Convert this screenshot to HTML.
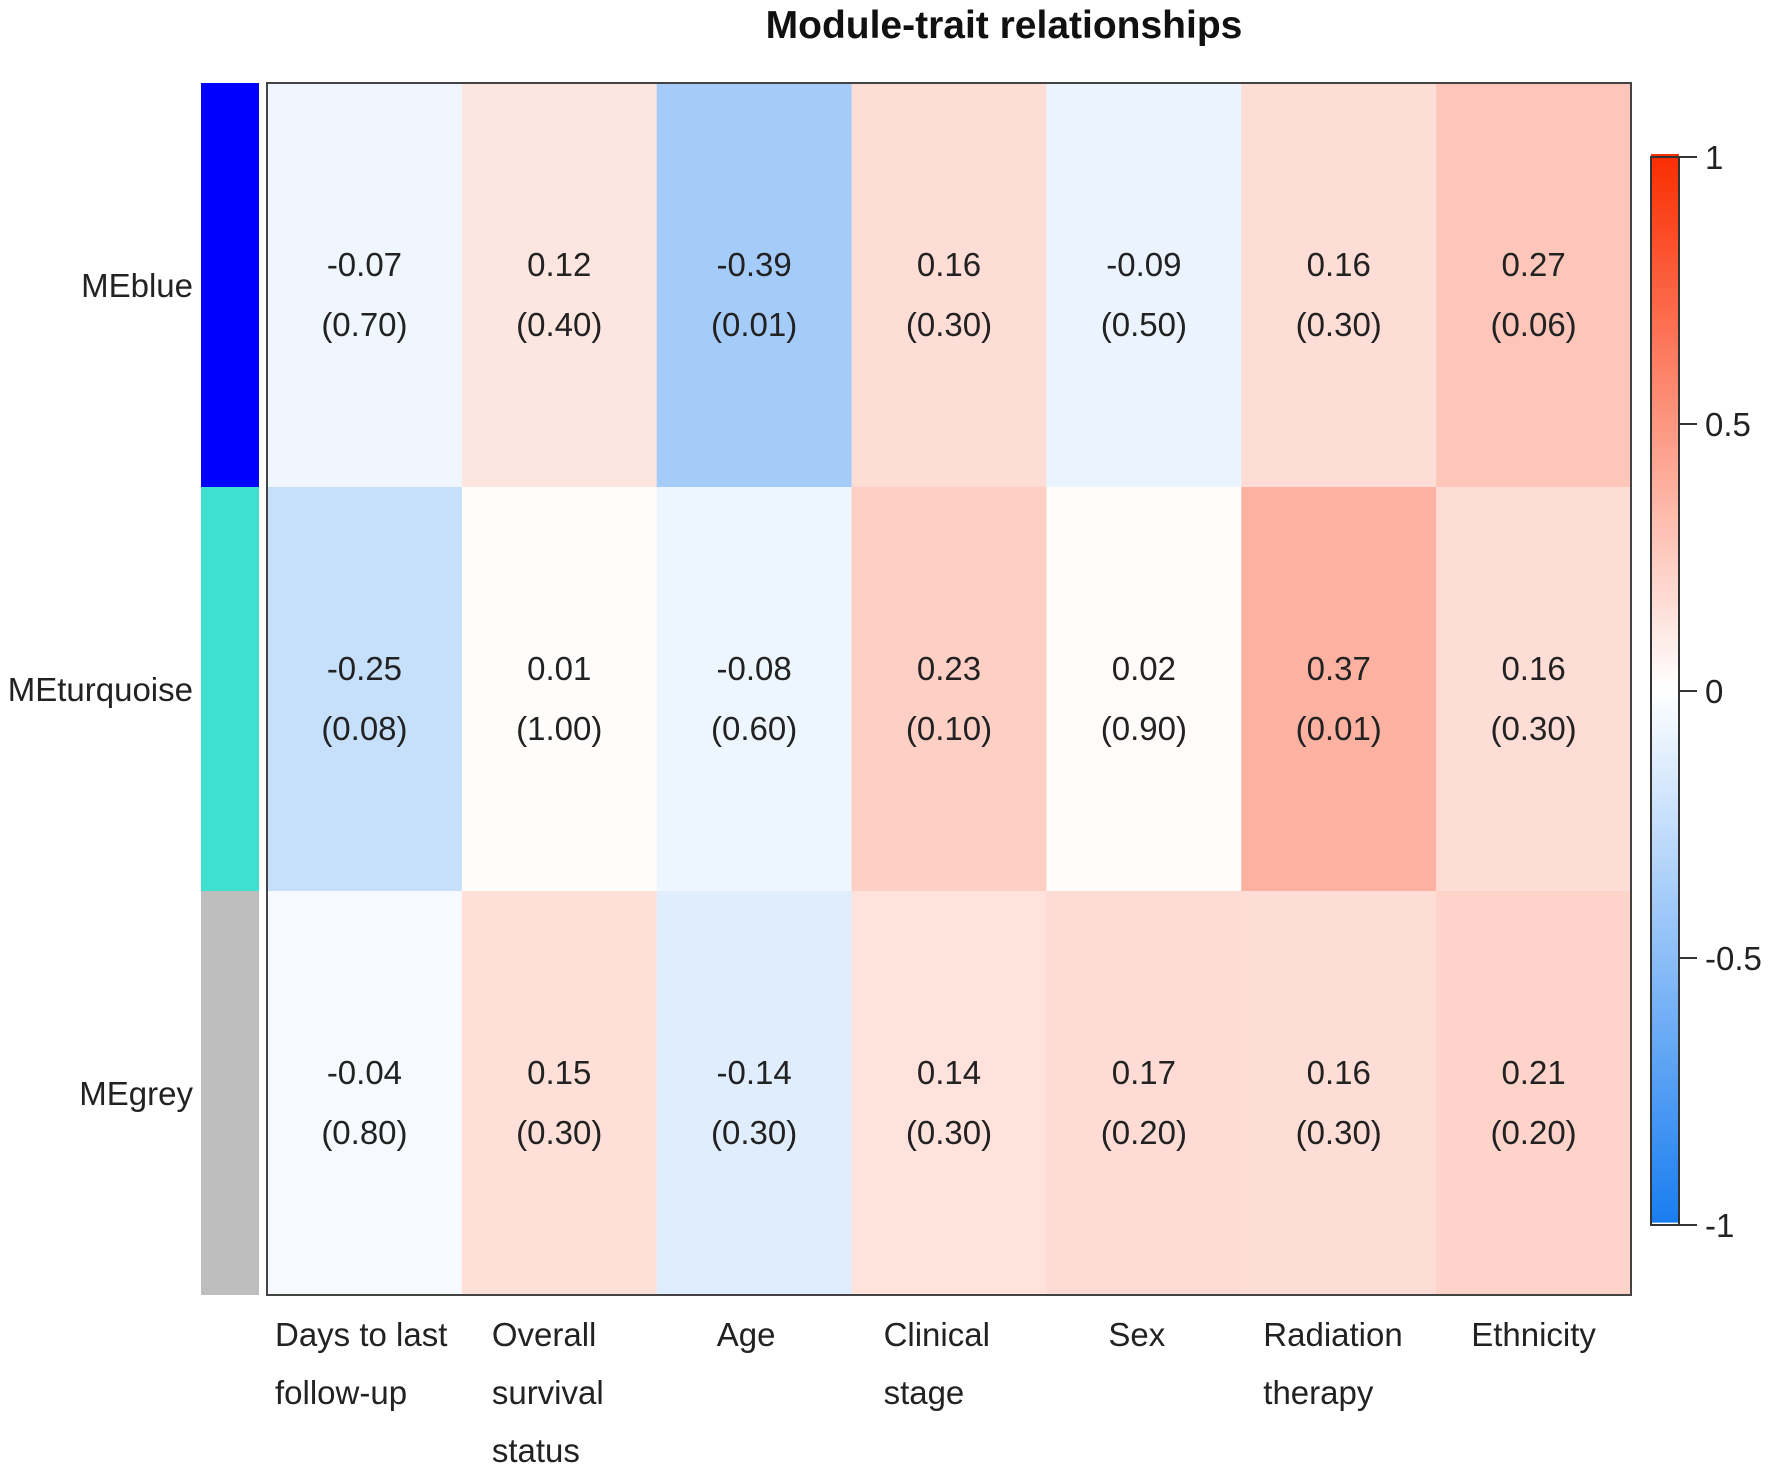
<!DOCTYPE html>
<html><head><meta charset="utf-8">
<style>
body{margin:0;background:#fff;}
svg text{font-family:"Liberation Sans",Arial,sans-serif;}
</style></head>
<body>
<svg id="chart" width="1772" height="1474" viewBox="0 0 1772 1474" xmlns="http://www.w3.org/2000/svg">
<text x="1004" y="38" text-anchor="middle" font-size="39" font-weight="bold" fill="#111">Module-trait relationships</text>
<g id="cells"></g>
<g id="strips"></g>
<g id="labels"></g>
<g id="cbar"></g>
</svg>
<script>
const traits = [["Days to last","follow-up"],["Overall","survival","status"],["Age"],["Clinical","stage"],["Sex"],["Radiation","therapy"],["Ethnicity"]];
const modules = ["MEblue","MEturquoise","MEgrey"];
const moduleColors = ["#0000ff","#40e0d0","#bebebe"];
const corr = [
 [-0.07,0.12,-0.39,0.16,-0.09,0.16,0.27],
 [-0.25,0.01,-0.08,0.23,0.02,0.37,0.16],
 [-0.04,0.15,-0.14,0.14,0.17,0.16,0.21]
];
const pvals = [
 ["0.70","0.40","0.01","0.30","0.50","0.30","0.06"],
 ["0.08","1.00","0.60","0.10","0.90","0.01","0.30"],
 ["0.80","0.30","0.30","0.30","0.20","0.30","0.20"]
];
const cbarTicks = [1,0.5,0,-0.5,-1];
const cbarTickLabels = ["1","0.5","0","-0.5","-1"];

const NS="http://www.w3.org/2000/svg";
const L=267,R=1631,T=83,B=1295;
const cw=(R-L)/traits.length, rh=(B-T)/modules.length;
const xPos=i=>L+i*cw, yPos=j=>T+j*rh;
const labelOff=[8,30,0,32,0,22,0];
const labelShift=[0,0,-8,0,-7,0,0];
function color(v){
  v=Math.max(-1,Math.min(1,v));
  let e = v<0?[25,125,240]:[250,45,0];
  let t=Math.abs(v);
  return `rgb(${Math.round(255+(e[0]-255)*t)},${Math.round(255+(e[1]-255)*t)},${Math.round(255+(e[2]-255)*t)})`;
}
function mk(tag,attrs,parent,txt){const el=document.createElementNS(NS,tag);for(const k in attrs)el.setAttribute(k,attrs[k]);if(txt!==undefined)el.textContent=txt;parent.appendChild(el);return el;}
const cells=document.getElementById('cells'),strips=document.getElementById('strips'),labels=document.getElementById('labels'),cbar=document.getElementById('cbar');
corr.forEach((row,j)=>row.forEach((v,i)=>{
  const r=mk('rect',{x:xPos(i),y:yPos(j),width:cw+0.5,height:rh+0.5,fill:color(v)},cells);
  
  
  const cx=xPos(i)+cw/2, cy=yPos(j)+rh/2;
  const t1=mk('text',{x:cx,y:cy-9,'text-anchor':'middle','font-size':33,fill:'#222'},cells,v.toFixed(2));
  
  
  const t2=mk('text',{x:cx,y:cy+51,'text-anchor':'middle','font-size':33,fill:'#222'},cells,'('+pvals[j][i]+')');
  
  
}));
const fr=mk('rect',{x:L,y:T,width:R-L,height:B-T,fill:'none',stroke:'#444','stroke-width':2},cells);


modules.forEach((m,j)=>{
  const s=mk('rect',{x:201,y:yPos(j),width:58,height:rh,fill:moduleColors[j]},strips);
  
  
  const t=mk('text',{x:193,y:yPos(j)+rh/2+12,'text-anchor':'end','font-size':33,fill:'#222'},labels,m);
  
  
});
traits.forEach((lines,i)=>{
  lines.forEach((ln,k)=>{
    const single=lines.length===1;
    const t=mk('text',{x:single?xPos(i)+cw/2+labelShift[i]:xPos(i)+labelOff[i],y:1346+k*58,'text-anchor':single?'middle':'start','font-size':33,fill:'#222'},labels,ln);
    
    
  });
});
const cT=157,cB=1225,cL=1651,cR=1679;
const cy=v=>cB-(v+1)/2*(cB-cT);
for(let k=0;k<200;k++){
  const v=-1+(k+0.5)*2/200;
  mk('rect',{x:cL,y:cy(v+0.01)-0.3,width:cR-cL,height:(cB-cT)/200+0.6,fill:color(v)},cbar);
}
const cf=mk('rect',{x:cL,y:cT,width:cR-cL,height:cB-cT,fill:'none',stroke:'#333','stroke-width':2},cbar);


cbarTicks.forEach((v,k)=>{
  mk('line',{x1:cR,x2:1697,y1:cy(v),y2:cy(v),stroke:'#333','stroke-width':2},cbar);
  const t=mk('text',{x:1705,y:cy(v)+12,'font-size':33,fill:'#222'},cbar,cbarTickLabels[k]);
  
  
});
</script>
</body></html>
